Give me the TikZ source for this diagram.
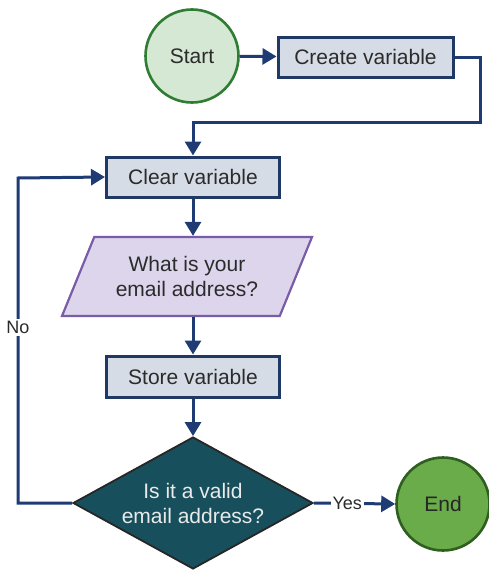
\documentclass[tikz,border=0pt]{standalone}
\usepackage{fontspec}
\setmainfont{Liberation Sans}
\usetikzlibrary{shapes.geometric,arrows.meta}
\definecolor{arrowc}{HTML}{1F3B73}
\definecolor{boxfill}{HTML}{D6DCE5}
\definecolor{boxline}{HTML}{1F3864}
\definecolor{startfill}{HTML}{D5E8D4}
\definecolor{startline}{HTML}{2E7D32}
\definecolor{parfill}{HTML}{DDD5EC}
\definecolor{parline}{HTML}{7A5BA6}
\definecolor{diafill}{HTML}{17505C}
\definecolor{diatext}{HTML}{EAEAEA}
\definecolor{endfill}{HTML}{6AAB4A}
\definecolor{endline}{HTML}{2F5F1F}
\definecolor{txt}{HTML}{2B2B2B}
\tikzset{
  lbl/.style={font=\fontsize{21}{25}\selectfont, text=txt},
  procbox/.style={lbl, draw=boxline, fill=boxfill, line width=3pt, rectangle, minimum height=40pt, inner sep=0pt},
  term/.style={lbl, circle, minimum size=93pt, line width=2.6pt, inner sep=0pt},
  flow/.style={draw=arrowc, line width=3pt, -{Triangle[length=14pt,width=16pt]}},
  edgelbl/.style={fill=white, inner sep=2pt, lbl, font=\fontsize{18}{20}\selectfont},
}
\begin{document}
\begin{tikzpicture}[x=1pt,y=-1pt]
\useasboundingbox (0,0) rectangle (488,570);
\node[term, draw=startline, fill=startfill] (start) at (192,56) {Start};
\node[procbox, minimum width=175pt] (create) at (365.5,57) {Create variable};
\node[procbox, minimum width=173pt] (clear) at (193,177) {Clear variable};
\node[lbl, trapezium, trapezium left angle=51.4, trapezium right angle=128.6, trapezium stretches body,
      draw=parline, fill=parfill, line width=2.2pt, minimum width=250pt, minimum height=79pt, inner sep=0pt, align=center]
      (ask) at (187,276.5) {What is your\\email address?};
\node[procbox, minimum width=173pt, minimum height=41pt] (store) at (193,376.5) {Store variable};
\node[lbl, diamond, aspect=1.82, draw=black!85, fill=diafill, text=diatext, line width=1.8pt,
      minimum width=240pt, minimum height=132pt, inner sep=0pt, align=center]
      (valid) at (193,503) {Is it a valid\\email address?};
\node[term, draw=endline, fill=endfill, text=black!85] (end) at (443,504) {End};
\coordinate (r1) at (480,122);
\coordinate (nl) at (18,178);

\draw[flow] (start) -- (create);
\draw[flow] (create.east) -| (r1) -| (clear.north);
\draw[flow] (clear.south) -- (clear.south |- ask.north);
\draw[flow] (store.north |- ask.south) -- (store.north);
\draw[flow] (store.south) -- (valid.north);
\draw[flow] (valid.east) -- node[pos=0.41, edgelbl]{Yes} (end.west);
\draw[flow] (valid.west) -| node[pos=0.77, edgelbl]{No} (nl) -- (clear.west);
\end{tikzpicture}
\end{document}
